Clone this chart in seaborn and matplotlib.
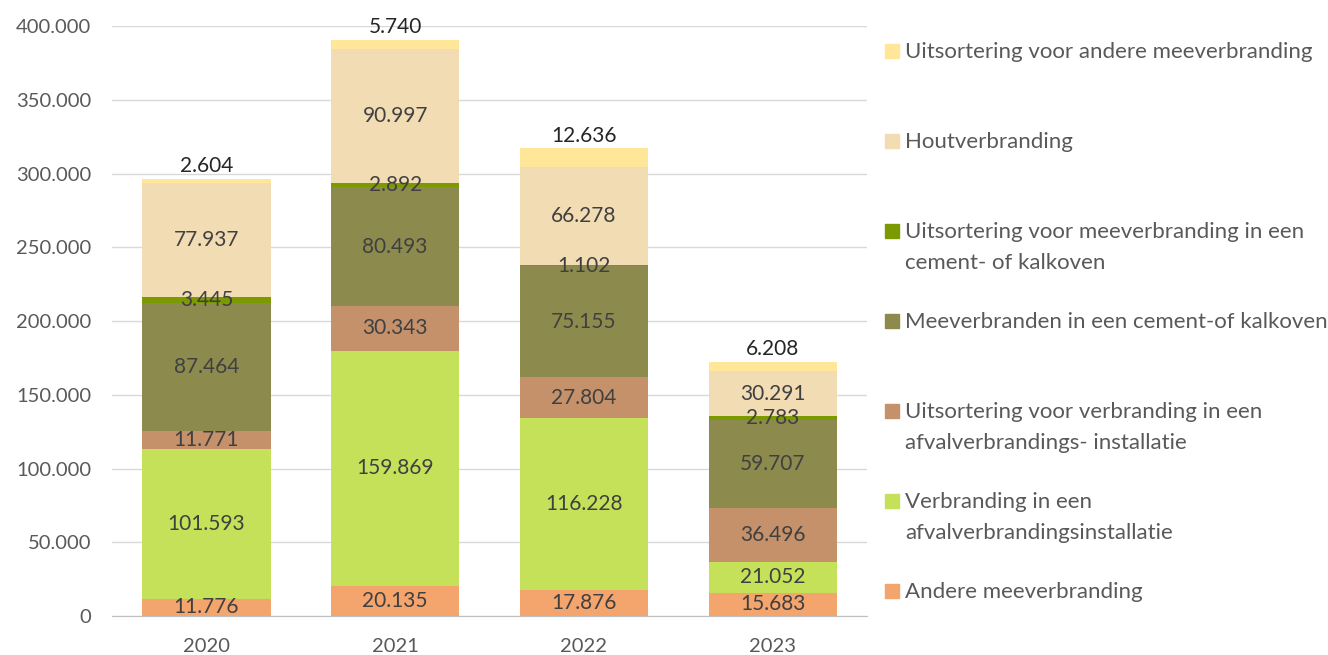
import numpy as np
import pandas as pd
import seaborn as sns
import matplotlib.pyplot as plt
from matplotlib.patches import Rectangle

# data (bottom -> top of stack)
years = ["2020", "2021", "2022", "2023"]
andere = [11776, 20135, 17876, 15683]
verbranding_avi = [101593, 159869, 116228, 21052]
uitsort_avi = [11771, 30343, 27804, 36496]
meeverbranden_cement = [87464, 80493, 75155, 59707]
uitsort_cement = [3445, 2892, 1102, 2783]
hout = [77937, 90997, 66278, 30291]
uitsort_andere = [2604, 5740, 12636, 6208]

series_names = [
    "Andere meeverbranding",
    "Verbranding in een\nafvalverbrandingsinstallatie",
    "Uitsortering voor verbranding in een\nafvalverbrandings- installatie",
    "Meeverbranden in een cement-of kalkoven",
    "Uitsortering voor meeverbranding in een\ncement- of kalkoven",
    "Houtverbranding",
    "Uitsortering voor andere meeverbranding",
]
series_vals = [andere, verbranding_avi, uitsort_avi, meeverbranden_cement,
               uitsort_cement, hout, uitsort_andere]
colors = ["#F4A46D", "#C5E15A", "#C4916B", "#8C8A4D", "#7B9A00", "#F1DCB4", "#FFE699"]

sns.set_style("white")
plt.rcParams['font.family'] = ['Lato', 'DejaVu Sans']

fig = plt.figure(figsize=(13.28, 6.55), dpi=100)
ax = fig.add_axes([0.0843, 0.0595, 0.5687, 0.9005])

vals = np.array(series_vals, dtype=float)
cum = np.cumsum(vals, axis=0)

# draw cumulative totals from top down so each layer shows its own segment
for i in range(len(series_names) - 1, -1, -1):
    df = pd.DataFrame({"year": years, "value": cum[i]})
    sns.barplot(data=df, x="year", y="value", color=colors[i], width=0.68,
                saturation=1, ax=ax, edgecolor="none", linewidth=0)

# data labels
for i in range(len(series_names)):
    for j in range(len(years)):
        v = vals[i, j]
        txt = f"{int(v):,}".replace(",", ".")
        if i == len(series_names) - 1:
            ax.text(j, cum[i, j] + 2000, txt, ha="center", va="bottom",
                    fontsize=15, color="#262626")
        else:
            ax.text(j, cum[i, j] - v / 2, txt, ha="center", va="center",
                    fontsize=15, color="#404040")

ax.set_ylim(0, 400000)
ax.set_xlim(-0.5, 3.5)
ticks = np.arange(0, 400001, 50000)
ax.set_yticks(ticks)
ax.set_yticklabels([f"{int(t):,}".replace(",", ".") for t in ticks])
ax.yaxis.grid(True, color="#D9D9D9", linewidth=1)
ax.set_axisbelow(True)
for s in ["top", "right", "left"]:
    ax.spines[s].set_visible(False)
ax.spines["bottom"].set_color("#BFBFBF")
ax.tick_params(axis="both", labelsize=14.5, colors="#595959", length=0)
ax.tick_params(axis="y", pad=15)
ax.tick_params(axis="x", pad=16)
ax.set_xlabel("")
ax.set_ylabel("")

# legend, top entry = top of stack
for k, i in enumerate(range(len(series_names) - 1, -1, -1)):
    y = 1 - (51 + 90 * k) / 655
    fig.patches.append(Rectangle((885 / 1328, y - 7 / 655), 14 / 1328, 14 / 655,
                                 transform=fig.transFigure, color=colors[i]))
    fig.text(905 / 1328, y + 9 / 655, series_names[i], ha="left", va="top",
             fontsize=16, color="#595959", linespacing=1.7)

fig.savefig("out.png", dpi=100)
